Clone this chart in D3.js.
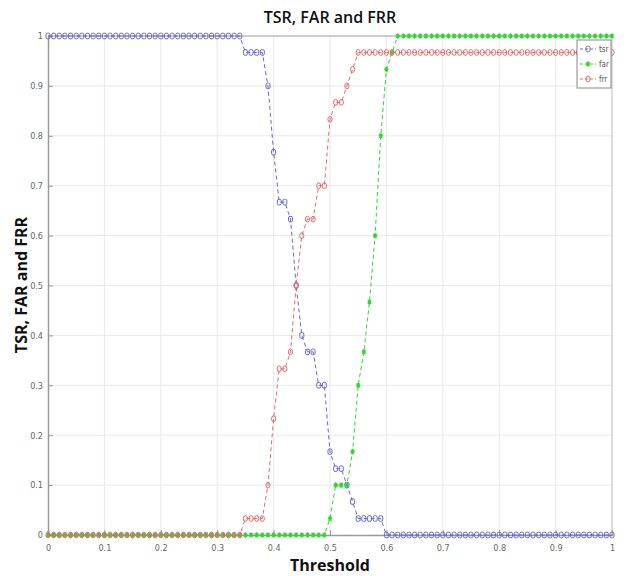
<!DOCTYPE html>
<html>
<head>
<meta charset="utf-8">
<script src="https://cdn.jsdelivr.net/npm/d3@7"></script>
<style>
  body { margin: 0; background: #fff; }
  svg { display: block; }
</style>
</head>
<body>
<div id="chart"></div>
<script>
// threshold grid 0 : 0.01 : 1
let thresholds = d3.range(0, 101).map(i => i / 100)

let tsr = [
  1, 1, 1, 1, 1, 1, 1, 1, 1, 1, 1, 1, 1, 1, 1, 1, 1, 1, 1, 1,
  1, 1, 1, 1, 1, 1, 1, 1, 1, 1, 1, 1, 1, 1, 1, 0.967, 0.967, 0.967, 0.967, 0.9,
  0.767, 0.667, 0.667, 0.633, 0.5, 0.4, 0.367, 0.367, 0.3, 0.3,
  0.167, 0.133, 0.133, 0.1, 0.067, 0.033, 0.033, 0.033, 0.033, 0.033,
  0, 0, 0, 0, 0, 0, 0, 0, 0, 0, 0, 0, 0, 0, 0, 0, 0, 0, 0, 0,
  0, 0, 0, 0, 0, 0, 0, 0, 0, 0, 0, 0, 0, 0, 0, 0, 0, 0, 0, 0, 0
]
let far = [
  0, 0, 0, 0, 0, 0, 0, 0, 0, 0, 0, 0, 0, 0, 0, 0, 0, 0, 0, 0,
  0, 0, 0, 0, 0, 0, 0, 0, 0, 0, 0, 0, 0, 0, 0, 0, 0, 0, 0, 0,
  0, 0, 0, 0, 0, 0, 0, 0, 0, 0,
  0.033, 0.1, 0.1, 0.1, 0.167, 0.3, 0.367, 0.467, 0.6, 0.8,
  0.933, 0.967, 1, 1, 1, 1, 1, 1, 1, 1, 1, 1, 1, 1, 1, 1, 1, 1, 1, 1,
  1, 1, 1, 1, 1, 1, 1, 1, 1, 1, 1, 1, 1, 1, 1, 1, 1, 1, 1, 1, 1
]
let frr = [
  0, 0, 0, 0, 0, 0, 0, 0, 0, 0, 0, 0, 0, 0, 0, 0, 0, 0, 0, 0,
  0, 0, 0, 0, 0, 0, 0, 0, 0, 0, 0, 0, 0, 0, 0, 0.033, 0.033, 0.033, 0.033, 0.1,
  0.233, 0.333, 0.333, 0.367, 0.5, 0.6, 0.633, 0.633, 0.7, 0.7,
  0.833, 0.867, 0.867, 0.9, 0.933, 0.967, 0.967, 0.967, 0.967, 0.967,
  0.967, 0.967, 0.967, 0.967, 0.967, 0.967, 0.967, 0.967, 0.967, 0.967,
  0.967, 0.967, 0.967, 0.967, 0.967, 0.967, 0.967, 0.967, 0.967, 0.967,
  0.967, 0.967, 0.967, 0.967, 0.967, 0.967, 0.967, 0.967, 0.967, 0.967,
  0.967, 0.967, 0.967, 0.967, 0.967, 0.967, 0.967, 0.967, 0.967, 0.967, 0.967
]

let seriesNames = ["tsr", "far", "frr"]
let seriesColors = ["#6767c9", "#2ed62e", "#e06a6a"]
let xTicks = [0, 0.1, 0.2, 0.3, 0.4, 0.5, 0.6, 0.7, 0.8, 0.9, 1]
let yTicks = [0, 0.1, 0.2, 0.3, 0.4, 0.5, 0.6, 0.7, 0.8, 0.9, 1]

let width = 629, height = 576
let margin = { top: 36, right: 17, bottom: 41, left: 48 }

let svg = d3.select("#chart").append("svg")
  .attr("width", width)
  .attr("height", height)

let x = d3.scaleLinear().domain([0, 1]).range([margin.left, width - margin.right])
let y = d3.scaleLinear().domain([0, 1]).range([height - margin.bottom, margin.top])

let tickFont = "'Liberation Sans Narrow', 'DejaVu Sans Condensed', 'Liberation Sans', sans-serif"

// grid
svg.append("g").selectAll("line.vg")
  .data(xTicks.slice(1, -1))
  .enter().append("line")
  .attr("x1", d => x(d)).attr("x2", d => x(d))
  .attr("y1", y(0)).attr("y2", y(1))
  .attr("stroke", "#e9e9e9").attr("stroke-width", 1)
svg.append("g").selectAll("line.hg")
  .data(yTicks.slice(1, -1))
  .enter().append("line")
  .attr("x1", x(0)).attr("x2", x(1))
  .attr("y1", d => y(d)).attr("y2", d => y(d))
  .attr("stroke", "#e9e9e9").attr("stroke-width", 1)

// axes
let xAxis = svg.append("g")
  .attr("transform", "translate(0," + y(0) + ")")
  .call(d3.axisBottom(x).tickValues(xTicks).tickSize(-5).tickPadding(10).tickFormat(d3.format("")))
let yAxis = svg.append("g")
  .attr("transform", "translate(" + x(0) + ",0)")
  .call(d3.axisLeft(y).tickValues(yTicks).tickSize(-5).tickPadding(5).tickFormat(d3.format("")))
for (let ax of [xAxis, yAxis]) {
  ax.select(".domain").attr("stroke", "#9a9a9a").attr("stroke-width", 1.5)
  ax.selectAll(".tick line").attr("stroke", "#9a9a9a")
  ax.selectAll(".tick text")
    .style("font-family", tickFont)
    .style("font-size", "9px")
    .attr("fill", "#666")
}
// top/right box
svg.append("line")
  .attr("x1", x(0)).attr("x2", x(1)).attr("y1", y(1)).attr("y2", y(1))
  .attr("stroke", "#9a9a9a").attr("stroke-width", 1)
svg.append("line")
  .attr("x1", x(1)).attr("x2", x(1)).attr("y1", y(1)).attr("y2", y(0))
  .attr("stroke", "#bbb").attr("stroke-width", 1)

// series
let allSeries = [tsr, far, frr]
let line = d3.line().x((d, i) => x(thresholds[i])).y(d => y(d))

function drawMarker(g, kind, color) {
  if (kind === 0) {
    g.append("rect").attr("x", -2).attr("y", -2.8).attr("width", 4).attr("height", 5.6)
      .attr("rx", 1.5).attr("fill", "none").attr("stroke", color).attr("stroke-width", 1)
  } else if (kind === 1) {
    g.append("path").attr("d", "M-2.2,0H2.2M0,-2.8V2.8M-1.6,-2L1.6,2M-1.6,2L1.6,-2")
      .attr("stroke", color).attr("stroke-width", 1.1)
  } else {
    g.append("ellipse").attr("rx", 2.1).attr("ry", 2.9)
      .attr("fill", "none").attr("stroke", color).attr("stroke-width", 1)
  }
}

allSeries.forEach((vals, k) => {
  svg.append("path")
    .datum(vals)
    .attr("d", line)
    .attr("fill", "none")
    .attr("stroke", seriesColors[k])
    .attr("stroke-width", 1)
    .attr("stroke-dasharray", "4,3")
  svg.append("g").selectAll("g")
    .data(vals)
    .enter().append("g")
    .attr("transform", (d, i) => "translate(" + x(thresholds[i]) + "," + y(d) + ")")
    .each(function () { drawMarker(d3.select(this), k, seriesColors[k]) })
})

// legend
let lg = svg.append("g").attr("transform", "translate(577,40)")
lg.append("rect").attr("width", 34).attr("height", 48)
  .attr("fill", "#fff").attr("stroke", "#888").attr("stroke-width", 1)
seriesNames.forEach((name, k) => {
  let row = lg.append("g").attr("transform", "translate(0," + (9 + k * 15) + ")")
  row.append("line").attr("x1", 3).attr("x2", 19).attr("y1", 0).attr("y2", 0)
    .attr("stroke", seriesColors[k]).attr("stroke-dasharray", "3,2")
  let m = row.append("g").attr("transform", "translate(11,0)")
  drawMarker(m, k, seriesColors[k])
  row.append("text").attr("x", 22).attr("y", 3).text(name)
    .style("font-family", tickFont).style("font-size", "8px").attr("fill", "#555")
})

// titles
svg.append("text")
  .attr("x", 330).attr("y", 23)
  .attr("text-anchor", "middle")
  .style("font-family", "'Open Sans', sans-serif")
  .style("font-size", "16px").style("font-weight", 600)
  .attr("fill", "#111")
  .text("TSR, FAR and FRR")
svg.append("text")
  .attr("x", 330).attr("y", 571)
  .attr("text-anchor", "middle")
  .style("font-family", "'Open Sans', sans-serif")
  .style("font-size", "16px").style("font-weight", 700)
  .attr("fill", "#111")
  .text("Threshold")
svg.append("text")
  .attr("transform", "translate(27,285) rotate(-90)")
  .attr("text-anchor", "middle")
  .style("font-family", "'Open Sans', sans-serif")
  .style("font-size", "16px").style("font-weight", 700)
  .attr("fill", "#111")
  .text("TSR, FAR and FRR")
</script>
</body>
</html>
